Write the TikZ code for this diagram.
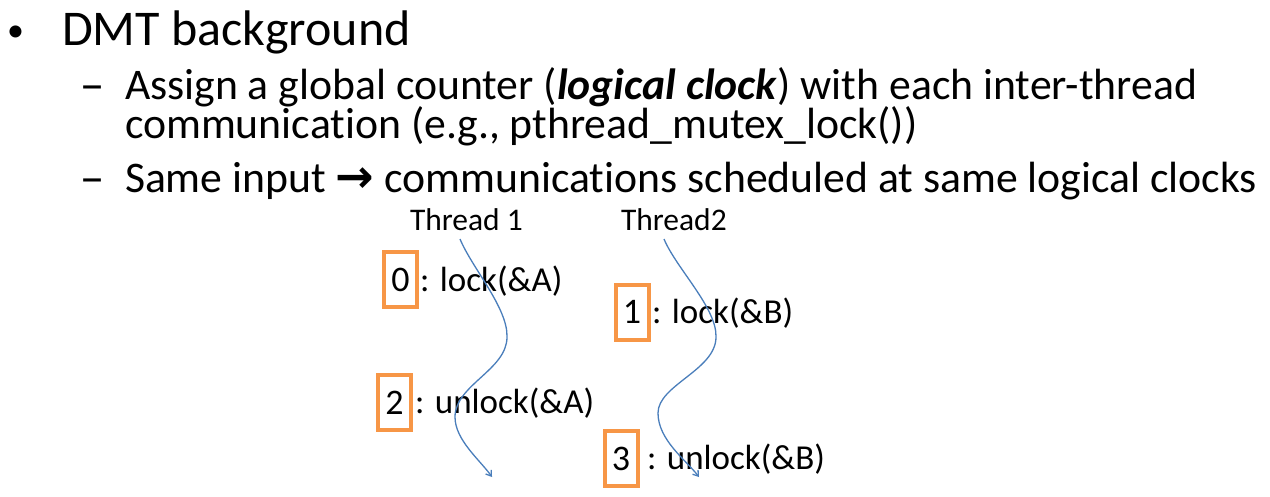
\documentclass[tikz,border=0pt]{standalone}
\usepackage{fontspec}
\setmainfont{Carlito}[Ligatures=NoCommon]
\newfontfamily\symfont{DejaVu Sans}
\usetikzlibrary{arrows.meta}
\definecolor{boxorange}{HTML}{F79646}
\definecolor{threadblue}{HTML}{4A7EBB}
\begin{document}
\begin{tikzpicture}[x=1pt,y=-1pt,
  txt/.style={anchor=base west,inner sep=0pt,outer sep=0pt},
  lvlone/.style={txt,font=\fontsize{50}{60}\selectfont},
  lvltwo/.style={txt,font=\fontsize{43.7}{52}\selectfont},
  dashmark/.style={txt,font=\symfont\fontsize{44}{53}\selectfont},
  threadlabel/.style={txt,font=\fontsize{31.5}{38}\selectfont},
  oplabel/.style={txt,font=\fontsize{35}{42}\selectfont},
  numbox/.style={draw=boxorange,line width=4pt,minimum width=33pt,minimum height=55pt,
    inner sep=0pt,font=\fontsize{36}{43}\selectfont},
  threadline/.style={draw=threadblue,line width=1.3pt,-{Straight Barb[length=5pt,width=7pt]}}]
\useasboundingbox (0,0) rectangle (1270,496);

% bullet list
\node[txt,font=\fontsize{34}{40}\selectfont] (b1) at (7,41) {•};
\node[lvlone] (t1) at (62,45) {DMT background};
\node[dashmark] (d1) at (81,99) {–};
\node[lvltwo] (t2) at (125,99) {Assign a global counter (\textbf{\textit{logical clock}}) with each inter-thread};
\node[lvltwo] (t3) at (125,138.5) {communication (e.g., pthread\_mutex\_lock())};
\node[dashmark] (d2) at (81,192) {–};
\node[lvltwo] (t4) at (125,192) {Same input {\symfont\bfseries\fontsize{46}{53}\selectfont →} communications scheduled at same logical clocks};

% thread headers
\node[threadlabel] (th1) at (410,230) {Thread 1};
\node[threadlabel] (th2) at (621,230) {Thread2};

% operations with their logical clocks
\node[numbox] (n0) at (400.5,279.5) {0};
\node[oplabel] (op0) at (420,291) {: lock(\&A)};
\node[numbox] (n1) at (632,312) {1};
\node[oplabel] (op1) at (652,323) {: lock(\&B)};
\node[numbox] (n2) at (394.5,402.5) {2};
\node[oplabel] (op2) at (415,413) {: unlock(\&A)};
\node[numbox] (n3) at (621,458.5) {3};
\node[oplabel] (op3) at (647,469) {: unlock(\&B)};

% thread execution lines
\coordinate (s1) at (460,239);
\coordinate (r1) at (507,337);
\coordinate (l1) at (455,417);
\coordinate (e1) at (492,477);
\draw[threadline] (s1) .. controls (472,268) and (508,308) .. (r1)
  .. controls (507,370) and (455,385) .. (l1)
  .. controls (455,440) and (480,460) .. (e1);

\coordinate (s2) at (664,239);
\coordinate (r2) at (716,337);
\coordinate (l2) at (658,413);
\coordinate (e2) at (699,477);
\draw[threadline] (s2) .. controls (676,268) and (717,308) .. (r2)
  .. controls (716,370) and (658,385) .. (l2)
  .. controls (658,440) and (686,460) .. (e2);
\end{tikzpicture}
\end{document}
